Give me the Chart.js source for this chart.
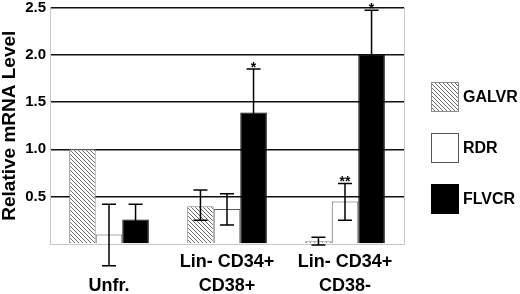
<!DOCTYPE html>
<html>
<head>
<meta charset="utf-8">
<script src="https://cdn.jsdelivr.net/npm/chart.js@4"></script>
<style>
  html, body { margin: 0; padding: 0; background: #fff; }
  #wrap { position: relative; width: 520px; height: 294px; }
</style>
</head>
<body>
<div id="wrap"><canvas id="chart"></canvas></div>
<script>
// Relative mRNA level of three receptors in sorted cell fractions
const categories = [['', 'Unfr.'], ['Lin- CD34+', 'CD38+'], ['Lin- CD34+', 'CD38-']];
const seriesNames = ['GALVR', 'RDR', 'FLVCR'];

const galvrValues = [1.0, 0.40, 0.03];
const galvrHigh = [null, 0.57, 0.07];
const galvrLow = [null, 0.25, -0.01];
const galvrSig = ['', '', ''];

const rdrValues = [0.10, 0.37, 0.45];
const rdrHigh = [0.42, 0.53, 0.64];
const rdrLow = [-0.23, 0.20, 0.25];
const rdrSig = ['', '', '**'];

const flvcrValues = [0.26, 1.39, 2.0];
const flvcrHigh = [0.42, 1.85, 2.47];
const flvcrLow = [0.10, 0.93, 1.53];
const flvcrSig = ['', '*', '*'];

const yTickLabels = ['', '0.5', '1.0', '1.5', '2.0', '2.5'];

const FONT = '"Liberation Sans", Arial, sans-serif';

// diagonal hatch for GALVR
function makeHatch() {
    const s = 4;
    const c = document.createElement('canvas');
    c.width = s; c.height = s;
    const g = c.getContext('2d');
    g.fillStyle = '#fff';
    g.fillRect(0, 0, s, s);
    g.strokeStyle = '#6a6a6a';
    g.lineWidth = 1;
    g.beginPath();
    [-s, 0, s].forEach(function (k) {
        g.moveTo(k, 0);
        g.lineTo(k + s, s);
    });
    g.stroke();
    return g.createPattern(c, 'repeat');
}
const hatch = makeHatch();

const errorSets = [
    { high: galvrHigh, low: galvrLow, sig: galvrSig },
    { high: rdrHigh, low: rdrLow, sig: rdrSig },
    { high: flvcrHigh, low: flvcrLow, sig: flvcrSig }
];

const errorBars = {
    id: 'errorBars',
    afterDatasetsDraw: function (chart) {
        const ctx = chart.ctx;
        const y = chart.scales.y;
        ctx.save();
        ctx.strokeStyle = '#000';
        ctx.lineWidth = 1.5;
        chart.data.datasets.forEach(function (ds, di) {
            const meta = chart.getDatasetMeta(di);
            const e = errorSets[di];
            meta.data.forEach(function (bar, i) {
                if (e.high[i] == null) return;
                const x = bar.x;
                const top = y.getPixelForValue(e.high[i]);
                const bot = y.getPixelForValue(e.low[i]);
                ctx.beginPath();
                ctx.moveTo(x, top); ctx.lineTo(x, bot);
                ctx.moveTo(x - 7, top); ctx.lineTo(x + 7, top);
                ctx.moveTo(x - 7, bot); ctx.lineTo(x + 7, bot);
                ctx.stroke();
                if (e.sig[i]) {
                    ctx.fillStyle = '#000';
                    ctx.font = 'bold 14px ' + FONT;
                    ctx.textAlign = 'center';
                    ctx.textBaseline = 'alphabetic';
                    ctx.fillText(e.sig[i], x, top + 3);
                }
            });
        });
        ctx.restore();
    }
};

// plot frame on the right and legend boxes beside it
const sideLegend = {
    id: 'sideLegend',
    afterDraw: function (chart) {
        const ctx = chart.ctx;
        const a = chart.chartArea;
        ctx.save();
        ctx.strokeStyle = '#c8c8c8';
        ctx.lineWidth = 1;
        ctx.beginPath();
        ctx.moveTo(a.right + 0.5, a.top);
        ctx.lineTo(a.right + 0.5, a.bottom);
        ctx.stroke();

        const bx = a.right + 27;
        const mid = chart.height / 2 + 1;
        chart.data.datasets.forEach(function (ds, i) {
            const cy = mid + (i - 1) * 51;
            ctx.fillStyle = ds.backgroundColor;
            ctx.fillRect(bx, cy - 15, 28, 30);
            ctx.strokeStyle = ds.borderColor;
            ctx.lineWidth = 1;
            ctx.strokeRect(bx + 0.5, cy - 14.5, 27, 29);
            ctx.fillStyle = '#000';
            ctx.font = 'bold 16px ' + FONT;
            ctx.textAlign = 'left';
            ctx.textBaseline = 'middle';
            ctx.fillText(ds.label, bx + 32, cy + 1);
        });
        ctx.restore();
    }
};

new Chart(document.getElementById('chart'), {
    type: 'bar',
    data: {
        labels: categories,
        datasets: [
            { label: seriesNames[0], data: galvrValues, backgroundColor: hatch, borderColor: '#8a8a8a', borderWidth: 1 },
            { label: seriesNames[1], data: rdrValues, backgroundColor: '#ffffff', borderColor: '#555555', borderWidth: 1 },
            { label: seriesNames[2], data: flvcrValues, backgroundColor: '#000000', borderColor: '#000000', borderWidth: 1 }
        ]
    },
    options: {
        responsive: true,
        maintainAspectRatio: false,
        animation: false,
        categoryPercentage: 0.675,
        barPercentage: 1.0,
        layout: { padding: { left: 0, right: 116, top: 0, bottom: 0 } },
        plugins: {
            legend: { display: false },
            tooltip: { enabled: false }
        },
        scales: {
            x: {
                grid: { display: false, drawTicks: false },
                border: { display: true, color: '#c8c8c8', width: 1 },
                ticks: {
                    color: '#000',
                    padding: 6,
                    maxRotation: 0,
                    autoSkip: false,
                    font: { family: FONT, size: 18, weight: 'bold', lineHeight: 1.33 }
                },
                afterFit: function (s) { s.height = 50; }
            },
            y: {
                min: 0,
                max: 2.5,
                ticks: {
                    stepSize: 0.5,
                    color: '#000',
                    padding: 4,
                    font: { family: FONT, size: 15, weight: 'bold', lineHeight: 0.45 },
                    callback: function (v, i) { return yTickLabels[i]; }
                },
                grid: {
                    drawTicks: false,
                    lineWidth: 1.5,
                    color: function (c) { return c.tick && c.tick.value === 0 ? 'rgba(0,0,0,0)' : '#111'; }
                },
                border: { display: true, color: '#c8c8c8', width: 1 },
                title: {
                    display: true,
                    text: 'Relative mRNA Level',
                    color: '#000',
                    padding: 0,
                    font: { family: FONT, size: 19, weight: 'bold', lineHeight: 1.0 }
                },
                afterFit: function (s) { s.width = 50; }
            }
        }
    },
    plugins: [errorBars, sideLegend]
});
</script>
</body>
</html>
